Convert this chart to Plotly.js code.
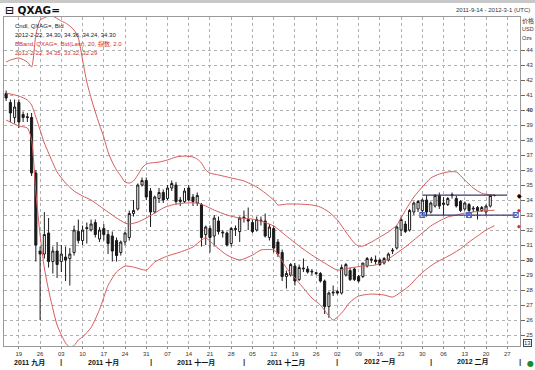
<!DOCTYPE html>
<html><head><meta charset="utf-8">
<script src="https://cdn.plot.ly/plotly-3.0.1.min.js"></script>
<style>html,body{margin:0;padding:0;background:#fff;}#chart{width:535px;height:370px;}</style>
</head><body><div id="chart"></div>
<script>
const dates = ['2011-09-14','2011-09-15','2011-09-16','2011-09-19','2011-09-20','2011-09-21','2011-09-22','2011-09-23','2011-09-26','2011-09-27','2011-09-28','2011-09-29','2011-09-30',
'2011-10-03','2011-10-04','2011-10-05','2011-10-06','2011-10-07','2011-10-10','2011-10-11','2011-10-12','2011-10-13','2011-10-14','2011-10-17','2011-10-18','2011-10-19','2011-10-20','2011-10-21','2011-10-24','2011-10-25','2011-10-26','2011-10-27','2011-10-28','2011-10-31',
'2011-11-01','2011-11-02','2011-11-03','2011-11-04','2011-11-07','2011-11-08','2011-11-09','2011-11-10','2011-11-11','2011-11-14','2011-11-15','2011-11-16','2011-11-17','2011-11-18','2011-11-21','2011-11-22','2011-11-23','2011-11-24','2011-11-25','2011-11-28','2011-11-29','2011-11-30',
'2011-12-01','2011-12-02','2011-12-05','2011-12-06','2011-12-07','2011-12-08','2011-12-09','2011-12-12','2011-12-13','2011-12-14','2011-12-15','2011-12-16','2011-12-19','2011-12-20','2011-12-21','2011-12-22','2011-12-23','2011-12-26','2011-12-27','2011-12-28','2011-12-29','2011-12-30',
'2012-01-02','2012-01-03','2012-01-04','2012-01-05','2012-01-06','2012-01-09','2012-01-10','2012-01-11','2012-01-12','2012-01-13','2012-01-16','2012-01-17','2012-01-18','2012-01-19','2012-01-20','2012-01-23','2012-01-24','2012-01-25','2012-01-26','2012-01-27','2012-01-30','2012-01-31',
'2012-02-01','2012-02-02','2012-02-03','2012-02-06','2012-02-07','2012-02-08','2012-02-09','2012-02-10','2012-02-13','2012-02-14','2012-02-15','2012-02-16','2012-02-17','2012-02-20','2012-02-21','2012-02-22'];

const opens = [41.1,40.5,39.5,40.5,39.7,39.55,39.5,35.8,30.6,30.4,31.8,29.9,30.6,
29.9,30.2,30.1,30.5,31.9,31.3,32.1,32.0,32.5,31.4,32.1,31.7,31.6,31.3,30.5,31.2,31.5,33.1,33.4,35.0,35.3,
34.6,33.2,34.1,34.5,34.1,34.8,35.0,33.9,33.9,34.8,34.2,33.8,33.7,31.7,32.1,31.6,32.6,31.8,31.8,31.1,32.1,31.9,
32.8,32.7,32.5,32.0,32.6,32.6,31.5,32.1,31.2,30.5,28.9,29.0,29.6,28.7,29.4,29.4,29.2,29.1,29.1,28.6,26.9,27.8,
27.9,27.8,29.0,29.3,29.4,28.9,28.9,29.6,30.0,30.0,30.0,29.8,30.0,30.6,30.8,32.0,32.4,32.0,33.2,33.4,33.3,34.0,
33.2,33.6,34.3,33.7,33.7,34.3,34.1,33.9,33.4,33.7,33.4,33.5,33.3,33.2,33.6,34.30];
const highs = [41.3,40.7,40.7,40.7,39.9,39.8,39.8,36.0,30.9,33.2,32.8,30.9,31.2,
31.0,30.9,30.8,32.3,32.7,32.3,32.5,32.7,32.7,32.2,32.4,32.0,31.9,31.5,31.3,31.9,33.3,34.0,35.1,35.5,35.5,
34.8,34.3,34.8,34.7,35.0,35.3,35.2,34.2,34.8,35.0,34.4,34.5,33.8,32.3,32.3,33.0,32.9,32.0,31.9,32.2,32.3,32.9,
33.3,33.5,32.7,32.9,32.9,33.1,32.4,32.3,31.4,30.7,29.3,29.8,29.8,29.7,30.1,29.6,29.4,29.2,29.2,28.7,27.9,28.3,
28.0,29.7,29.8,29.5,29.5,29.0,29.8,30.2,30.2,30.3,30.1,30.2,30.5,30.8,32.3,32.9,32.6,33.4,33.9,34.0,34.1,34.3,
33.9,34.4,34.5,34.2,34.2,34.5,34.3,34.0,33.9,33.8,33.6,33.6,33.6,33.7,34.4,34.36];
const lows = [40.6,39.2,39.1,38.8,39.2,39.2,35.6,29.9,26.0,30.1,29.5,29.1,28.8,
29.2,28.6,28.3,30.3,31.1,31.0,31.1,31.9,31.5,31.2,31.3,30.4,29.9,29.9,30.3,31.0,31.3,32.9,33.3,34.9,34.0,
32.2,33.1,33.8,33.8,34.0,34.6,33.7,33.6,33.8,33.9,33.6,33.6,30.9,31.0,30.5,30.9,31.7,31.5,30.9,30.9,31.6,31.2,
32.5,32.0,31.8,31.9,32.3,31.5,31.3,30.5,30.2,28.6,28.1,28.9,28.3,28.6,29.2,29.1,29.0,29.0,28.5,26.4,26.15,27.6,
27.7,27.7,28.9,28.6,28.6,28.5,28.8,29.5,29.8,29.7,29.6,29.7,29.9,30.4,30.7,31.6,31.8,31.9,33.0,33.2,33.0,32.9,
33.1,33.5,33.4,33.0,33.6,34.1,33.5,33.2,33.3,33.0,33.2,32.7,33.2,33.0,33.5,34.24];
const closes = [40.8,39.8,40.2,39.2,39.5,39.5,35.8,31.0,30.4,31.7,29.9,30.6,29.7,
30.4,30.0,30.4,32.0,31.3,32.0,32.15,32.4,31.7,32.0,31.7,31.1,30.6,30.3,31.2,31.8,33.1,33.3,35.0,35.3,34.2,
33.2,34.2,34.5,34.0,34.8,35.1,33.9,34.0,34.6,34.0,33.9,34.3,31.5,32.2,31.5,32.8,31.9,31.85,31.0,32.1,32.05,32.8,
32.85,32.6,31.9,32.7,32.65,31.6,32.2,30.8,30.4,28.9,29.1,29.7,28.6,29.5,29.45,29.2,29.25,29.15,28.6,26.9,27.8,27.85,
27.8,29.5,29.7,28.7,28.7,28.6,29.8,30.1,30.05,29.9,29.7,30.1,30.4,30.65,32.2,32.7,31.9,33.3,33.8,33.9,34.0,33.2,
33.8,34.3,33.6,33.8,34.1,34.35,33.6,33.3,33.8,33.3,33.45,33.3,33.5,33.6,34.3,34.30];

const upperDates = ['2011-09-14','2011-09-15','2011-09-19','2011-09-21','2011-09-22','2011-09-23','2011-09-26','2011-09-27','2011-09-28','2011-09-29','2011-09-30','2011-10-03','2011-10-04','2011-10-05','2011-10-06','2011-10-07','2011-10-10','2011-10-11','2011-10-12','2011-10-13','2011-10-14','2011-10-17','2011-10-18','2011-10-19','2011-10-20','2011-10-21','2011-10-24','2011-10-25','2011-10-26','2011-10-27','2011-10-28','2011-10-31','2011-11-01','2011-11-03','2011-11-07','2011-11-09','2011-11-11','2011-11-15','2011-11-16','2011-11-17','2011-11-18','2011-11-21','2011-11-23','2011-11-28','2011-12-01','2011-12-06','2011-12-08','2011-12-12','2011-12-13','2011-12-15','2011-12-20','2011-12-23','2011-12-27','2011-12-29','2012-01-02','2012-01-04','2012-01-06','2012-01-09','2012-01-10','2012-01-12','2012-01-16','2012-01-18','2012-01-20','2012-01-23','2012-01-24','2012-01-26','2012-01-30','2012-02-01','2012-02-03','2012-02-07','2012-02-09','2012-02-13','2012-02-15','2012-02-17','2012-02-21','2012-02-22'];
const upperVals = [43.2,43.33,43.47,43.2,42.87,45.0,46.0,46.15,46.25,46.25,46.1,45.93,45.8,45.6,45.33,44.8,43.33,41.87,40.8,39.87,39.0,38.2,37.2,36.53,36.0,35.6,35.2,35.13,35.27,35.67,36.13,36.4,36.47,36.53,36.67,36.87,36.93,36.87,36.73,36.47,36.0,35.8,35.67,35.47,35.27,34.87,34.47,34.0,33.67,33.73,33.73,33.67,33.53,33.2,32.67,31.87,31.13,30.93,30.93,31.2,31.53,31.87,32.33,32.8,33.3,34.2,34.87,35.47,35.73,35.87,35.87,35.33,34.8,34.45,34.35,34.35];

const midDates = ['2011-09-14','2011-09-19','2011-09-21','2011-09-22','2011-09-23','2011-09-26','2011-09-27','2011-09-28','2011-09-30','2011-10-04','2011-10-06','2011-10-10','2011-10-12','2011-10-14','2011-10-18','2011-10-20','2011-10-24','2011-10-25','2011-10-27','2011-10-31','2011-11-02','2011-11-04','2011-11-08','2011-11-11','2011-11-16','2011-11-18','2011-11-22','2011-11-25','2011-11-30','2011-12-05','2011-12-07','2011-12-12','2011-12-15','2011-12-20','2011-12-23','2011-12-28','2012-01-02','2012-01-05','2012-01-10','2012-01-13','2012-01-18','2012-01-20','2012-01-24','2012-01-26','2012-01-30','2012-02-01','2012-02-03','2012-02-07','2012-02-09','2012-02-13','2012-02-15','2012-02-17','2012-02-22'];
const midVals = [41.13,40.93,40.67,40.33,39.53,38.67,37.8,37.13,35.87,35.13,34.6,34.27,34.0,33.6,33.2,32.8,32.47,32.4,32.53,32.8,33.13,33.47,33.67,33.8,33.8,33.6,33.33,33.0,32.8,32.73,32.6,32.27,31.6,30.93,30.33,29.8,29.33,29.47,29.6,29.67,30.07,30.47,30.87,31.33,31.8,32.27,32.6,32.87,33.0,33.13,33.2,33.27,33.32];

const lowerDates = ['2011-09-14','2011-09-19','2011-09-21','2011-09-22','2011-09-23','2011-09-26','2011-09-27','2011-09-28','2011-09-30','2011-10-04','2011-10-05','2011-10-06','2011-10-07','2011-10-10','2011-10-12','2011-10-14','2011-10-18','2011-10-20','2011-10-24','2011-10-26','2011-10-31','2011-11-02','2011-11-07','2011-11-10','2011-11-15','2011-11-17','2011-11-18','2011-11-22','2011-11-25','2011-11-30','2011-12-05','2011-12-07','2011-12-12','2011-12-13','2011-12-15','2011-12-20','2011-12-23','2011-12-27','2011-12-29','2011-12-30','2012-01-03','2012-01-05','2012-01-09','2012-01-12','2012-01-17','2012-01-19','2012-01-23','2012-01-25','2012-01-27','2012-01-31','2012-02-02','2012-02-06','2012-02-08','2012-02-10','2012-02-14','2012-02-16','2012-02-20','2012-02-22'];
const lowerVals = [39.33,38.93,38.8,38.0,34.5,31.67,29.47,28.0,25.67,24.47,24.2,24.3,24.67,24.87,25.5,26.7,28.3,29.2,29.6,29.53,29.33,29.87,30.27,30.53,30.87,31.33,31.47,31.0,30.33,30.0,30.33,30.67,30.67,30.4,29.47,28.47,27.47,27.0,26.27,26.0,26.47,27.2,27.6,27.73,27.67,27.53,27.87,28.3,28.9,29.4,29.8,30.1,30.4,30.75,31.2,31.6,32.0,32.29];

const topLineDates = ['2012-01-30','2012-02-27'];
const topLineVals = [34.33,34.33];
const bottomLineDates = ['2012-01-30','2012-02-14','2012-02-29'];
const bottomLineVals = [33.0,33.0,33.0];

const tickDates = ['2011-09-19','2011-09-26','2011-10-03','2011-10-10','2011-10-17','2011-10-24','2011-10-31','2011-11-07','2011-11-14','2011-11-21','2011-11-28','2011-12-05','2011-12-12','2011-12-19','2011-12-26','2012-01-02','2012-01-09','2012-01-16','2012-01-23','2012-01-30','2012-02-06','2012-02-13','2012-02-20','2012-02-27'];
const tickLabels = ['19','26','03','10','17','24','31','07','14','21','28','05','12','19','26','02','09','16','23','30','06','13','20','27'];
const monthLabels = ['2011 九月','2011 十月','2011 十一月','2011 十二月','2012 一月','2012 二月'];
const monthCenters = ['2011-09-21 12:00','2011-10-17','2011-11-15 18:00','2011-12-15','2012-01-16','2012-02-15'];
const monthBounds = ['2011-10-03','2011-11-01','2011-12-01','2012-01-02','2012-02-01','2012-03-01'];
const yTicks = [25,26,27,28,29,30,31,32,33,34,35,36,37,38,39,40,41,42,43,44];

// layout geometry
const W = 535, H = 370, mL = 4, mR = 15, mT = 17, mB = 24;
const pw = W - mL - mR, ph = H - mT - mB;
const px = x => (x - mL) / pw;
const py = y => (H - mB - y) / ph;
const FONT = 'Liberation Sans, Arial, sans-serif';
const CJK = 'Liberation Sans, Noto Sans CJK SC, sans-serif';

const bandColor = 'rgb(214,92,92)';
const traces = [
  {type:'scatter', mode:'lines', x: upperDates, y: upperVals, line:{color:bandColor, width:1, shape:'spline', smoothing:0.6}, hoverinfo:'skip', showlegend:false},
  {type:'scatter', mode:'lines', x: midDates, y: midVals, line:{color:bandColor, width:1, shape:'spline', smoothing:0.6}, hoverinfo:'skip', showlegend:false},
  {type:'scatter', mode:'lines', x: lowerDates, y: lowerVals, line:{color:bandColor, width:1, shape:'spline', smoothing:0.6}, hoverinfo:'skip', showlegend:false},
  {type:'candlestick', x: dates, open: opens, high: highs, low: lows, close: closes,
    increasing:{line:{color:'#1a1a1a', width:1}, fillcolor:'#ffffff'},
    decreasing:{line:{color:'#1a1a1a', width:1}, fillcolor:'#1a1a1a'},
    whiskerwidth:0, hoverinfo:'skip', showlegend:false},
  {type:'scatter', mode:'lines', x: topLineDates, y: topLineVals, line:{color:'#3a3a6a', width:1.2}, hoverinfo:'skip', showlegend:false},
  {type:'scatter', mode:'lines+markers', x: bottomLineDates, y: bottomLineVals, line:{color:'#3a3a7a', width:1.2},
    marker:{symbol:'square-x-open', size:5, color:'#4a64c8', line:{width:1}}, hoverinfo:'skip', showlegend:false}
];

const n = dates.length - 1;
const fmtDate = d => { const p = d.split('-'); return p[0] + '-' + (+p[1]) + '-' + (+p[2]); };
const annotations = [];
function ann(o){ annotations.push(Object.assign({showarrow:false, font:{family:FONT, size:6, color:'#222'}}, o)); }

ann({xref:'paper', yref:'paper', x:px(3), y:py(10), xanchor:'left', yanchor:'middle', text:'<b>⊟ QXAG=</b>', font:{family:'DejaVu Sans, sans-serif', size:10.5, color:'#111'}});
ann({xref:'paper', yref:'paper', x:px(532), y:py(10), xanchor:'right', yanchor:'middle', text:'2011-9-14 - 2012-3-1 (UTC)', font:{family:FONT, size:6, color:'#333'}});
ann({xref:'paper', yref:'paper', x:px(13), y:py(26), xanchor:'left', yanchor:'middle', text:'Cndl, QXAG=, Bid', font:{family:FONT, size:6, color:'#222'}});
ann({xref:'paper', yref:'paper', x:px(13), y:py(35), xanchor:'left', yanchor:'middle',
  text: fmtDate(dates[n]) + ', ' + [opens[n],highs[n],lows[n],closes[n]].map(v=>v.toFixed(2)).join(', '), font:{family:FONT, size:6, color:'#222'}});
ann({xref:'paper', yref:'paper', x:px(13), y:py(44), xanchor:'left', yanchor:'middle', text:'BBand, QXAG=, Bid(Last), 20, 指数, 2.0', font:{family:CJK, size:6, color:'#d03030'}});
ann({xref:'paper', yref:'paper', x:px(13), y:py(53), xanchor:'left', yanchor:'middle',
  text: fmtDate(dates[n]) + ', ' + [upperVals[upperVals.length-1], midVals[midVals.length-1], lowerVals[lowerVals.length-1]].map(v=>v.toFixed(2)).join(', '), font:{family:FONT, size:6, color:'#d03030'}});

// right axis header
ann({xref:'paper', yref:'paper', x:px(520), y:py(20), xanchor:'left', yanchor:'middle', text:'价格', font:{family:'Noto Sans CJK SC, sans-serif', size:6, color:'#333'}});
ann({xref:'paper', yref:'paper', x:px(520), y:py(29), xanchor:'left', yanchor:'middle', text:'USD', font:{family:FONT, size:5.5, color:'#333'}});
ann({xref:'paper', yref:'paper', x:px(520), y:py(38), xanchor:'left', yanchor:'middle', text:'Ozs', font:{family:FONT, size:5.5, color:'#333'}});

// last-value markers
ann({xref:'paper', yref:'y', x:px(519), y:upperVals[upperVals.length-1], xanchor:'center', yanchor:'middle', text:'◆', font:{family:'DejaVu Sans', size:5, color:'#d03030'}});
ann({xref:'paper', yref:'y', x:px(519), y:midVals[midVals.length-1], xanchor:'center', yanchor:'middle', text:'◆', font:{family:'DejaVu Sans', size:5, color:'#d03030'}});
ann({xref:'paper', yref:'y', x:px(519), y:lowerVals[lowerVals.length-1], xanchor:'center', yanchor:'middle', text:'◆', font:{family:'DejaVu Sans', size:5, color:'#d03030'}});
ann({xref:'paper', yref:'y', x:px(519), y:closes[n], xanchor:'center', yanchor:'middle', text:'◆', font:{family:'DejaVu Sans', size:6, color:'#000'}});

// bottom right bits
ann({xref:'paper', yref:'paper', x:px(527), y:py(343), xanchor:'center', yanchor:'middle', text:'13', font:{family:FONT, size:6, color:'#333'}, bordercolor:'#444', borderwidth:1, borderpad:0});
ann({xref:'paper', yref:'paper', x:px(530), y:py(363), xanchor:'center', yanchor:'middle', text:'●', font:{family:'DejaVu Sans', size:8, color:'#1a8a2a'}});

// month labels & separators
monthLabels.forEach((t,i)=>ann({xref:'x', yref:'paper', x:monthCenters[i], y:py(362), xanchor:'center', yanchor:'middle', text:'<b>'+t+'</b>', font:{family:CJK, size:7, color:'#111'}}));
monthBounds.forEach(d=>ann({xref:'x', yref:'paper', x:d, y:py(361), xanchor:'center', yanchor:'middle', text:'<b>|</b>', font:{family:FONT, size:8, color:'#333'}}));

const shapes = [
  {type:'rect', xref:'paper', yref:'paper', x0:px(0), x1:px(535), y0:py(3), y1:py(0), fillcolor:'#c8c8c8', line:{width:0}, layer:'below'}
];

const layout = {
  width: W, height: H,
  margin:{l:mL, r:mR, t:mT, b:mB, pad:0},
  paper_bgcolor:'#ffffff', plot_bgcolor:'#ffffff',
  showlegend:false,
  font:{family:FONT, size:6, color:'#222'},
  xaxis:{
    type:'date',
    range:['2011-09-13 12:00','2012-03-01'],
    rangebreaks:[{bounds:['sat','mon']}],
    rangeslider:{visible:false},
    tickmode:'array', tickvals: tickDates, ticktext: tickLabels,
    ticks:'outside', ticklen:2, tickcolor:'#888',
    tickfont:{family:FONT, size:6, color:'#333'},
    showgrid:true, gridcolor:'#b0b0b0', griddash:'dot', gridwidth:1,
    showline:true, linecolor:'#9a9a9a', linewidth:1, mirror:true,
    zeroline:false, fixedrange:true
  },
  yaxis:{
    side:'right',
    range:[24.27, 46.2],
    tickmode:'array', tickvals: yTicks, ticktext: yTicks.map(v => (v % 10 === 0) ? '<b>'+v+'</b>' : String(v)),
    ticks:'outside', ticklen:4, tickcolor:'#666',
    tickfont:{family:FONT, size:6, color:'#333'},
    showgrid:true, gridcolor:'#b0b0b0', griddash:'dot', gridwidth:1,
    showline:true, linecolor:'#9a9a9a', linewidth:1, mirror:true,
    zeroline:false, fixedrange:true
  },
  annotations: annotations,
  shapes: shapes
};

Plotly.newPlot('chart', traces, layout, {staticPlot:true, displayModeBar:false});
</script>
</body></html>
